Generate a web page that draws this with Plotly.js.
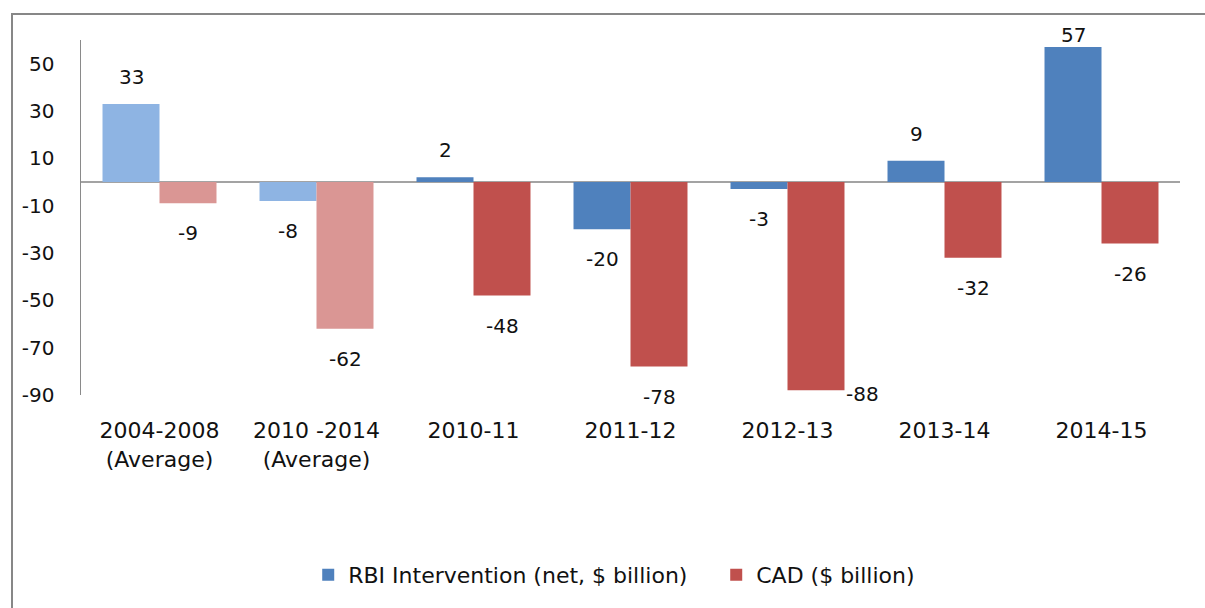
<!DOCTYPE html>
<html>
<head>
<meta charset="utf-8">
<script src="https://cdn.plot.ly/plotly-3.0.1.min.js"></script>
<style>
  html, body { margin: 0; padding: 0; background: #fff; overflow: hidden; }
  #wrap { position: relative; width: 1205px; height: 608px; }
  #chart { position: absolute; left: 0; top: 0; width: 1205px; height: 608px; }
  #frame { position: absolute; left: 11px; top: 13px; width: 1400px; height: 800px;
           border: 2px solid #878787; pointer-events: none; }
</style>
</head>
<body>
<div id="wrap">
  <div id="chart"></div>
  <div id="frame"></div>
</div>
<script>
// ---- data ----
const categories = ["2004-2008<br>(Average)", "2010 -2014<br>(Average)", "2010-11", "2011-12", "2012-13", "2013-14", "2014-15"];
const rbiIntervention = [33, -8, 2, -20, -3, 9, 57];
const cad = [-9, -62, -48, -78, -88, -32, -26];
const seriesNames = ["RBI Intervention (net, $ billion)", "CAD ($ billion)"];
const yTickValues = [-90, -70, -50, -30, -10, 10, 30, 50];

// ---- styling ----
const FONT = "DejaVu Sans, sans-serif";
const TXT = "#111111";
const nAvg = 2; // first two categories are averages (lighter shading)
const colors = {
  rbiLight: "#8EB4E3", rbiDark: "#4F81BD",
  cadLight: "#DA9694", cadDark: "#C0504D"
};
const bargap = 0.274;
const half = (1 - bargap) / 4; // offset of each bar centre from category centre

function barTrace(xs, ys, color, name, group, show) {
  return {
    type: "bar", x: xs, y: ys, name: name, offsetgroup: group,
    marker: { color: color, line: { width: 0 } },
    showlegend: show, hoverinfo: "skip"
  };
}

const traces = [
  barTrace(categories.slice(0, nAvg), rbiIntervention.slice(0, nAvg), colors.rbiLight, seriesNames[0], "rbi", false),
  barTrace(categories.slice(nAvg), rbiIntervention.slice(nAvg), colors.rbiDark, seriesNames[0], "rbi", true),
  barTrace(categories.slice(0, nAvg), cad.slice(0, nAvg), colors.cadLight, seriesNames[1], "cad", false),
  barTrace(categories.slice(nAvg), cad.slice(nAvg), colors.cadDark, seriesNames[1], "cad", true)
];

// data labels (placed at the bar ends via the axes)
const annotations = [];
function addLabels(values, side) {
  values.forEach((v, i) => {
    const a = {
      x: i + side * half, y: v, xref: "x", yref: "y",
      text: String(v), showarrow: false,
      font: { family: FONT, size: 20, color: TXT },
      xanchor: "center", yanchor: "middle",
      yshift: v >= 0 ? 27 : -30
    };
    if (v === Math.max(...values) && v > 50) { a.yshift = 12; }        // top label squeezed in
    if (v === Math.min(...values) && v < -85) {                         // bottom label moved beside bar
      a.x = i + side * half + half; a.xanchor = "left"; a.yshift = -4;
    }
    annotations.push(a);
  });
}
addLabels(rbiIntervention, -1);
addLabels(cad, 1);

const layout = {
  width: 1205, height: 608,
  margin: { l: 81, r: 25, t: 40, b: 207, pad: 0 },
  paper_bgcolor: "#ffffff", plot_bgcolor: "#ffffff",
  font: { family: FONT, size: 20, color: TXT },
  barmode: "group", bargap: bargap, bargroupgap: 0,
  showlegend: true,
  legend: {
    orientation: "h", x: 0.578, xanchor: "center", xref: "paper",
    y: -0.507, yanchor: "middle", yref: "paper",
    font: { family: FONT, size: 22, color: TXT },
    entrywidth: 363, entrywidthmode: "pixels",
    traceorder: "normal", itemclick: false, itemdoubleclick: false,
    bgcolor: "rgba(0,0,0,0)"
  },
  xaxis: {
    type: "category", categoryorder: "array", categoryarray: categories,
    showline: false, showgrid: false, zeroline: false, ticks: "",
    tickfont: { family: FONT, size: 22, color: TXT },
    ticklabelstandoff: 20, fixedrange: true
  },
  yaxis: {
    range: [-90, 60], tickvals: yTickValues, ticktext: yTickValues.map(String),
    showline: true, linecolor: "#8a8a8a", linewidth: 1.5,
    showgrid: false, ticks: "",
    zeroline: true, zerolinecolor: "#a3a3a3", zerolinewidth: 2,
    tickfont: { family: FONT, size: 20, color: TXT },
    ticklabelstandoff: 21, fixedrange: true
  },
  annotations: annotations
};

Plotly.newPlot("chart", traces, layout, { displayModeBar: false, staticPlot: true });
</script>
</body>
</html>
